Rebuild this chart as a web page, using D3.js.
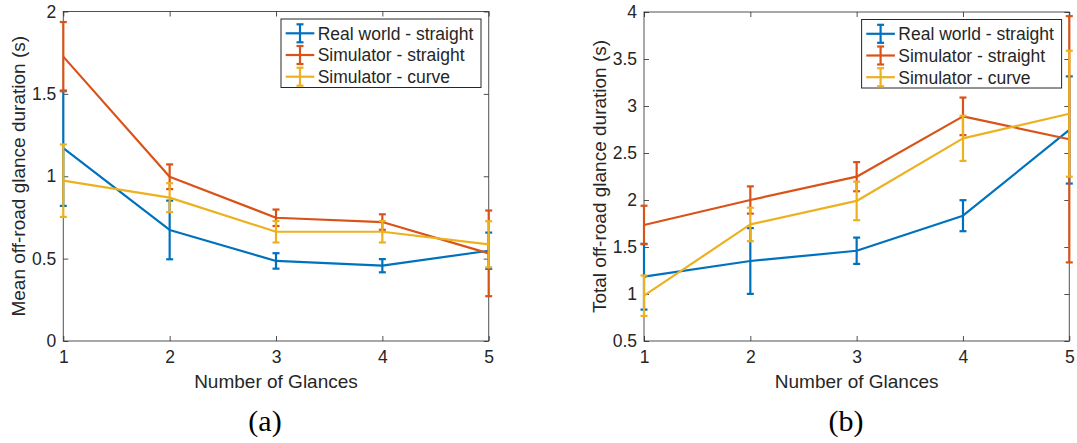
<!DOCTYPE html>
<html>
<head>
<meta charset="utf-8">
<script src="https://cdn.jsdelivr.net/npm/d3@7"></script>
<style>
  body { margin: 0; background: #fff; }
  text { font-family: "Liberation Sans", Arial, sans-serif; fill: #262626; }
</style>
</head>
<body>
<svg id="chart" width="1077" height="443"></svg>
<script>
// data
const glances = [1, 2, 3, 4, 5];
const seriesNames = ["Real world - straight", "Simulator - straight", "Simulator - curve"];
const colors = ["#0072BD", "#D95319", "#EDB120"];

// (a) mean off-road glance duration
const meanReal = [1.17, 0.674, 0.486, 0.457, 0.548];
const meanSimStraight = [1.726, 0.997, 0.748, 0.722, 0.532];
const meanSimCurve = [0.973, 0.87, 0.663, 0.663, 0.587];
const errMeanReal = [0.35, 0.178, 0.047, 0.04, 0.11];
const errMeanSimStraight = [0.21, 0.075, 0.05, 0.047, 0.26];
const errMeanSimCurve = [0.22, 0.088, 0.065, 0.065, 0.14];
const meanTicks = [0, 0.5, 1, 1.5, 2];

// (b) total off-road glance duration
const totalReal = [1.184, 1.351, 1.46, 1.833, 2.745];
const totalSimStraight = [1.734, 2.0, 2.248, 2.89, 2.646];
const totalSimCurve = [0.982, 1.74, 1.99, 2.656, 2.918];
const errTotalReal = [0.35, 0.35, 0.14, 0.165, 0.57];
const errTotalSimStraight = [0.205, 0.145, 0.155, 0.2, 1.31];
const errTotalSimCurve = [0.215, 0.178, 0.205, 0.24, 0.67];
const totalTicks = [0.5, 1, 1.5, 2, 2.5, 3, 3.5, 4];

const panels = [
  { x0: 63.3, x1: 488.7, y0: 11.5, y1: 341, yDomain: [0, 2], yTicks: meanTicks,
    means: [meanReal, meanSimStraight, meanSimCurve],
    errs: [errMeanReal, errMeanSimStraight, errMeanSimCurve],
    ylabel: "Mean off-road glance duration (s)", caption: "(a)", capX: 265 },
  { x0: 644, x1: 1069.3, y0: 12, y1: 341, yDomain: [0.5, 4], yTicks: totalTicks,
    means: [totalReal, totalSimStraight, totalSimCurve],
    errs: [errTotalReal, errTotalSimStraight, errTotalSimCurve],
    ylabel: "Total off-road glance duration (s)", caption: "(b)", capX: 846 }
];

const svg = d3.select("#chart");
const axisColor = "#262626";
const lw = 2.2, capHalf = 3.5;

panels.forEach(p => buildPanel(p));

function buildPanel(p) {
  let w = p.x1 - p.x0, h = p.y1 - p.y0;
  let g = svg.append("g").attr("transform", `translate(${p.x0},${p.y0})`);

  let x = d3.scaleLinear().domain([1, 5]).range([0, w]);
  let y = d3.scaleLinear().domain(p.yDomain).range([h, 0]);

  // axes, ticks inside like matlab
  let fmt = d => String(d);
  g.append("g").attr("transform", `translate(0,${h})`)
    .call(d3.axisBottom(x).tickValues(glances).tickFormat(fmt).tickSize(-5).tickSizeOuter(0).tickPadding(10))
    .call(styleAxis);
  g.append("g")
    .call(d3.axisLeft(y).tickValues(p.yTicks).tickFormat(fmt).tickSize(-5).tickSizeOuter(0).tickPadding(7))
    .call(styleAxis);
  g.append("g")
    .call(d3.axisTop(x).tickValues(glances).tickFormat("").tickSize(-5).tickSizeOuter(0))
    .call(styleAxis);
  g.append("g").attr("transform", `translate(${w},0)`)
    .call(d3.axisRight(y).tickValues(p.yTicks).tickFormat("").tickSize(-5).tickSizeOuter(0))
    .call(styleAxis);

  g.append("rect").attr("width", w).attr("height", h)
    .attr("fill", "none").attr("stroke", axisColor).attr("stroke-width", 1).attr("stroke-opacity", 0.8);

  // series
  let line = d3.line().x(d => x(d.g)).y(d => y(d.m));
  p.means.forEach((arr, i) => {
    let pts = glances.map((gl, j) => ({ g: gl, m: arr[j], e: p.errs[i][j] }));
    let s = g.append("g").attr("stroke", colors[i]).attr("stroke-width", lw).attr("fill", "none");
    s.append("path").attr("d", line(pts)).attr("stroke-linejoin", "round");
    let eb = s.selectAll(".eb").data(pts).enter().append("g");
    eb.append("line")
      .attr("x1", d => x(d.g)).attr("x2", d => x(d.g))
      .attr("y1", d => y(d.m - d.e)).attr("y2", d => y(d.m + d.e));
    [-1, 1].forEach(sign => {
      eb.append("line")
        .attr("x1", d => x(d.g) - capHalf).attr("x2", d => x(d.g) + capHalf)
        .attr("y1", d => y(d.m + sign * d.e)).attr("y2", d => y(d.m + sign * d.e));
    });
  });

  // legend
  let lg = g.append("g").attr("transform", `translate(${w - 207.7},${7.5})`);
  lg.append("rect").attr("width", 200).attr("height", 68.5)
    .attr("fill", "#fff").attr("stroke", axisColor).attr("stroke-width", 1);
  seriesNames.forEach((name, i) => {
    let cy = 14.3 + i * 21.7;
    let row = lg.append("g").attr("stroke", colors[i]).attr("stroke-width", lw);
    row.append("line").attr("x1", 4.7).attr("x2", 33.3).attr("y1", cy).attr("y2", cy);
    row.append("line").attr("x1", 19).attr("x2", 19).attr("y1", cy - 9).attr("y2", cy + 9);
    row.append("line").attr("x1", 19 - capHalf).attr("x2", 19 + capHalf).attr("y1", cy - 9).attr("y2", cy - 9);
    row.append("line").attr("x1", 19 - capHalf).attr("x2", 19 + capHalf).attr("y1", cy + 9).attr("y2", cy + 9);
    lg.append("text").attr("x", 36.7).attr("y", cy).attr("dy", "0.36em")
      .style("font-size", "17.5px").text(name);
  });

  // labels
  g.append("text").attr("x", w / 2).attr("y", 388 - p.y0)
    .attr("text-anchor", "middle").style("font-size", "19px").text("Number of Glances");
  g.append("text")
    .attr("transform", `translate(${-38},${h / 2}) rotate(-90)`)
    .attr("text-anchor", "middle").style("font-size", "19px").text(p.ylabel);

  svg.append("text").attr("x", p.capX).attr("y", 431)
    .attr("text-anchor", "middle")
    .style("font-family", "'Liberation Serif', 'DejaVu Serif', serif")
    .style("font-size", "30px").style("fill", "#000")
    .text(p.caption);
}

function styleAxis(sel) {
  sel.select(".domain").remove();
  sel.selectAll(".tick line").attr("stroke", axisColor).attr("stroke-opacity", 0.8);
  sel.selectAll(".tick text").style("font-size", "17.5px").attr("fill", axisColor);
}
</script>
</body>
</html>
